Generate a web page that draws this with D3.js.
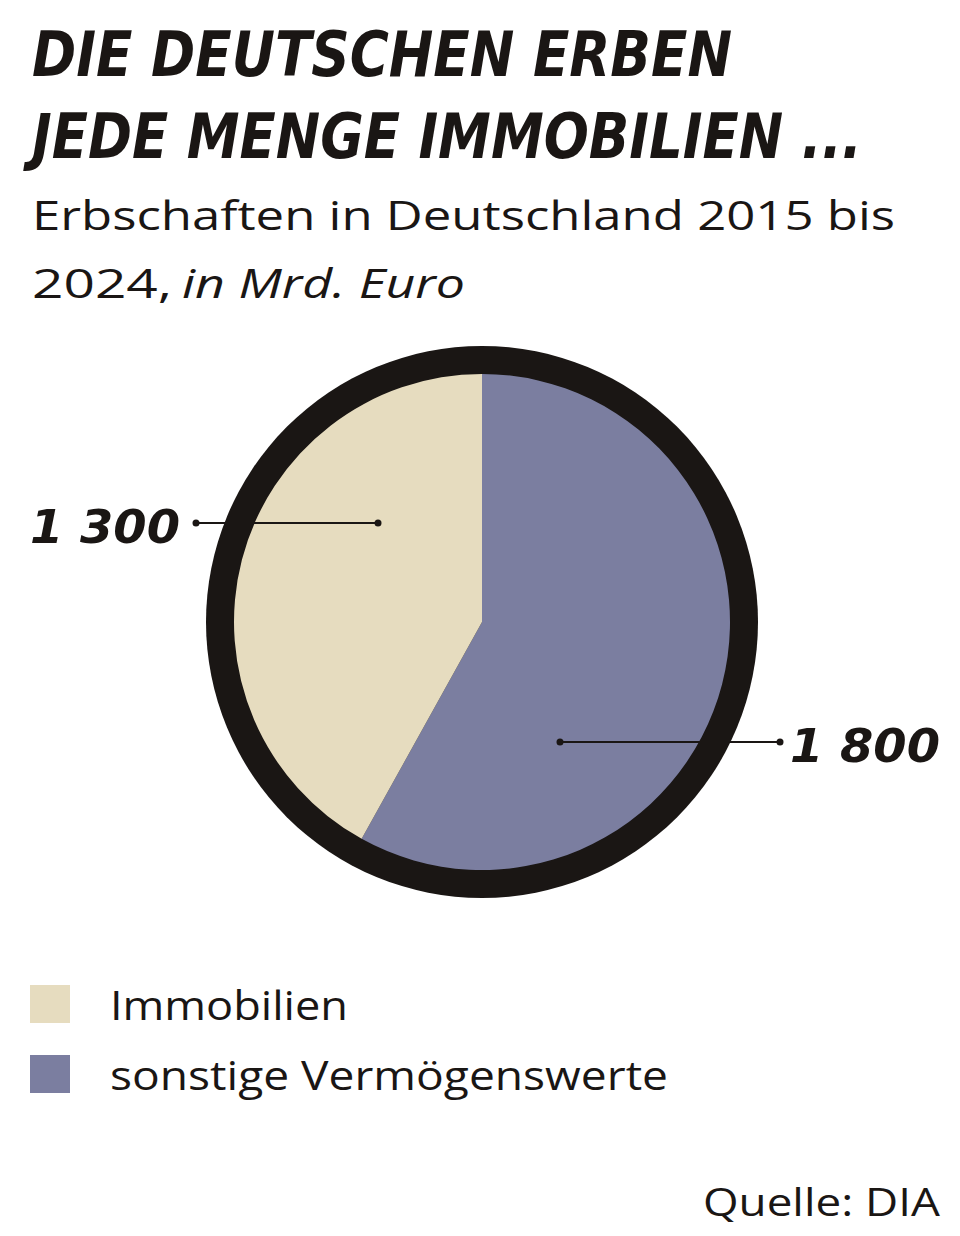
<!DOCTYPE html>
<html><head><meta charset="utf-8">
<script src="https://cdn.jsdelivr.net/npm/d3@7"></script>
<style>body{margin:0;background:#fff}</style></head>
<body><svg id="c" width="960" height="1236"></svg>
<script>
const categories = ["sonstige Vermögenswerte", "Immobilien"];
const values = [1800, 1300];
const valueLabels = ["1 800", "1 300"];
const legendOrder = ["Immobilien", "sonstige Vermögenswerte"];
const colors = {"Immobilien": "#e6dcbf", "sonstige Vermögenswerte": "#7b7ea0"};

const svg = d3.select("#c");
const tf = "'DejaVu Sans Condensed','DejaVu Sans',sans-serif";
const bf = "'Open Sans',Lato,sans-serif";
const adj = s => s.attr("lengthAdjust", "spacingAndGlyphs");

const title = svg.append("text").attr("font-family", tf).attr("font-weight", "bold")
  .attr("font-style", "italic").attr("font-size", 62).attr("fill", "#1a1614");
adj(title.append("tspan").attr("x", 32).attr("y", 76).attr("textLength", 700)).text("DIE DEUTSCHEN ERBEN");
adj(title.append("tspan").attr("x", 32).attr("y", 158).attr("textLength", 830)).text("JEDE MENGE IMMOBILIEN ...");

const sub = svg.append("text").attr("font-family", bf).attr("font-size", 40).attr("fill", "#1a1614");
adj(sub.append("tspan").attr("x", 32).attr("y", 230).attr("textLength", 863)).text("Erbschaften in Deutschland 2015 bis");
adj(sub.append("tspan").attr("x", 32).attr("y", 298).attr("textLength", 140)).text("2024,");
adj(sub.append("tspan").attr("x", 182).attr("y", 298).attr("font-style", "italic").attr("textLength", 283)).text("in Mrd. Euro");

const cx = 482, cy = 622, R = 276, ring = 28;
const g = svg.append("g").attr("transform", `translate(${cx},${cy})`);
g.append("circle").attr("r", R).attr("fill", "#1a1614");
const pie = d3.pie().sort(null).value(d => d.v);
const arcs = pie(categories.map((c, i) => ({c, v: values[i], l: valueLabels[i]})));
const arc = d3.arc().innerRadius(0).outerRadius(R - ring);
g.selectAll("path").data(arcs).join("path").attr("d", arc).attr("fill", d => colors[d.data.c]);

const leaders = [
  {i: 0, x1: 560 - cx, y: 742 - cy, x2: 780 - cx, tx: 790},
  {i: 1, x1: 378 - cx, y: 523 - cy, x2: 196 - cx, tx: 30}
];
leaders.forEach(L => {
  g.append("line").attr("x1", L.x1).attr("x2", L.x2).attr("y1", L.y).attr("y2", L.y)
    .attr("stroke", "#1a1614").attr("stroke-width", 2);
  [L.x1, L.x2].forEach(x => g.append("circle").attr("cx", x).attr("cy", L.y).attr("r", 3.5).attr("fill", "#1a1614"));
  adj(svg.append("text").attr("x", L.tx).attr("y", L.y + cy + 20).attr("textLength", 150)
    .attr("font-family", tf).attr("font-weight", "bold").attr("font-style", "italic")
    .attr("font-size", 46).attr("fill", "#1a1614")).text(arcs[L.i].data.l);
});

const legW = {"Immobilien": 238, "sonstige Vermögenswerte": 558};
const lg = svg.selectAll(".lg").data(legendOrder).join("g").attr("transform", (d, i) => `translate(30,${985 + i * 70})`);
lg.append("rect").attr("width", 40).attr("height", 38).attr("fill", d => colors[d]);
adj(lg.append("text").attr("x", 80).attr("y", 35).attr("textLength", d => legW[d]).attr("font-family", bf).attr("font-size", 40).attr("fill", "#1a1614")).text(d => d);

adj(svg.append("text").attr("x", 703).attr("y", 1216).attr("textLength", 237).attr("font-family", bf)
  .attr("font-size", 38).attr("fill", "#1a1614")).text("Quelle: DIA");
</script></body></html>
